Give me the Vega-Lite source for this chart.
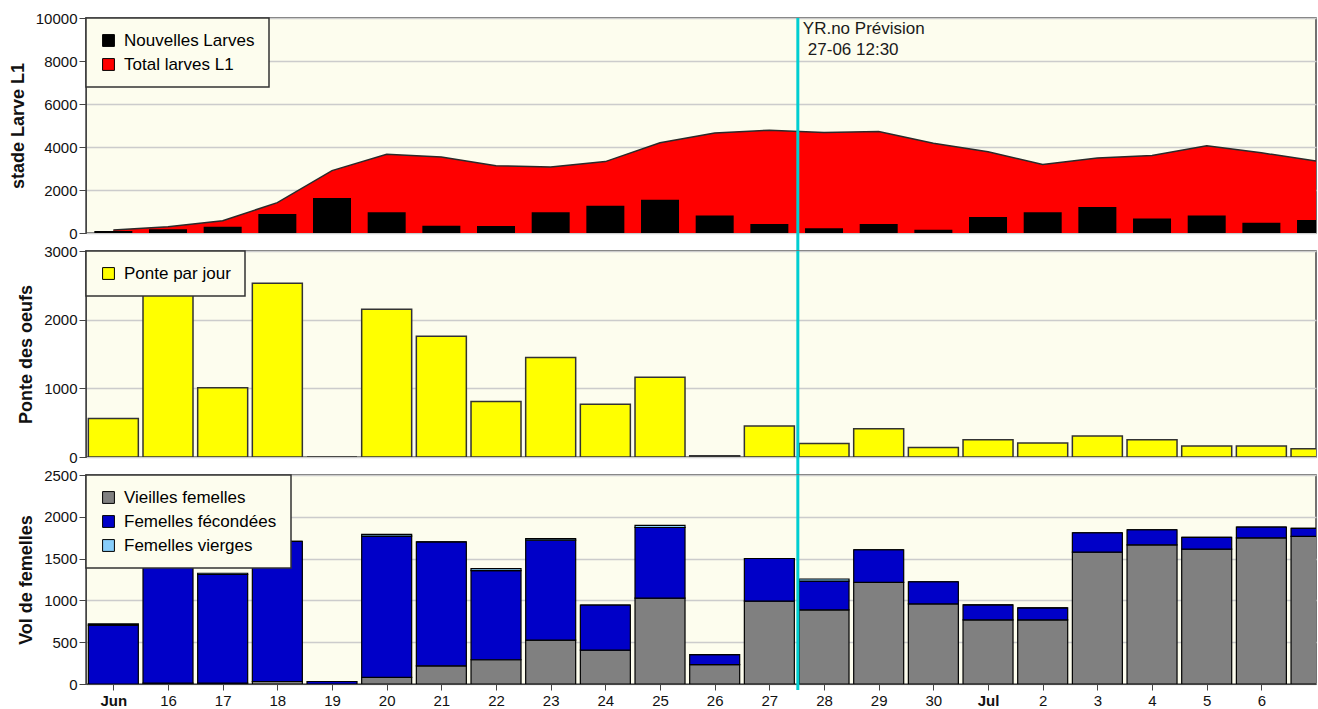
{
  "$schema": "https://vega.github.io/schema/vega-lite/v6.json",
  "padding": {"left": 8, "top": 10, "right": 0, "bottom": 0},
  "background": "#FFFFFF",
  "bounds": "flush",
  "spacing": 18,
  "datasets": {
    "larves": [
      {"date": "2023-06-15", "Nouvelles Larves": 90, "Total larves L1": 140},
      {"date": "2023-06-16", "Nouvelles Larves": 170, "Total larves L1": 290},
      {"date": "2023-06-17", "Nouvelles Larves": 290, "Total larves L1": 570},
      {"date": "2023-06-18", "Nouvelles Larves": 880, "Total larves L1": 1410},
      {"date": "2023-06-19", "Nouvelles Larves": 1630, "Total larves L1": 2900},
      {"date": "2023-06-20", "Nouvelles Larves": 960, "Total larves L1": 3660},
      {"date": "2023-06-21", "Nouvelles Larves": 340, "Total larves L1": 3530},
      {"date": "2023-06-22", "Nouvelles Larves": 330, "Total larves L1": 3130},
      {"date": "2023-06-23", "Nouvelles Larves": 960, "Total larves L1": 3070},
      {"date": "2023-06-24", "Nouvelles Larves": 1270, "Total larves L1": 3320},
      {"date": "2023-06-25", "Nouvelles Larves": 1550, "Total larves L1": 4200},
      {"date": "2023-06-26", "Nouvelles Larves": 810, "Total larves L1": 4650},
      {"date": "2023-06-27", "Nouvelles Larves": 420, "Total larves L1": 4780},
      {"date": "2023-06-28", "Nouvelles Larves": 220, "Total larves L1": 4670},
      {"date": "2023-06-29", "Nouvelles Larves": 420, "Total larves L1": 4720},
      {"date": "2023-06-30", "Nouvelles Larves": 150, "Total larves L1": 4170},
      {"date": "2023-07-01", "Nouvelles Larves": 740, "Total larves L1": 3780},
      {"date": "2023-07-02", "Nouvelles Larves": 960, "Total larves L1": 3190},
      {"date": "2023-07-03", "Nouvelles Larves": 1210, "Total larves L1": 3490},
      {"date": "2023-07-04", "Nouvelles Larves": 680, "Total larves L1": 3600},
      {"date": "2023-07-05", "Nouvelles Larves": 810, "Total larves L1": 4060},
      {"date": "2023-07-06", "Nouvelles Larves": 480, "Total larves L1": 3730},
      {"date": "2023-07-07", "Nouvelles Larves": 600, "Total larves L1": 3350}
    ],
    "ponte": [
      {"date": "2023-06-15", "Ponte par jour": 560},
      {"date": "2023-06-16", "Ponte par jour": 2800},
      {"date": "2023-06-17", "Ponte par jour": 1010},
      {"date": "2023-06-18", "Ponte par jour": 2530},
      {"date": "2023-06-19", "Ponte par jour": 0},
      {"date": "2023-06-20", "Ponte par jour": 2150},
      {"date": "2023-06-21", "Ponte par jour": 1760},
      {"date": "2023-06-22", "Ponte par jour": 810},
      {"date": "2023-06-23", "Ponte par jour": 1450},
      {"date": "2023-06-24", "Ponte par jour": 770},
      {"date": "2023-06-25", "Ponte par jour": 1160},
      {"date": "2023-06-26", "Ponte par jour": 20},
      {"date": "2023-06-27", "Ponte par jour": 450},
      {"date": "2023-06-28", "Ponte par jour": 195},
      {"date": "2023-06-29", "Ponte par jour": 410},
      {"date": "2023-06-30", "Ponte par jour": 140},
      {"date": "2023-07-01", "Ponte par jour": 250},
      {"date": "2023-07-02", "Ponte par jour": 205},
      {"date": "2023-07-03", "Ponte par jour": 305},
      {"date": "2023-07-04", "Ponte par jour": 250},
      {"date": "2023-07-05", "Ponte par jour": 160},
      {"date": "2023-07-06", "Ponte par jour": 160},
      {"date": "2023-07-07", "Ponte par jour": 120}
    ],
    "vol": [
      {"date": "2023-06-15", "Vieilles femelles": 0, "Femelles fécondées": 705, "Femelles vierges": 15},
      {"date": "2023-06-16", "Vieilles femelles": 10, "Femelles fécondées": 1590, "Femelles vierges": 0},
      {"date": "2023-06-17", "Vieilles femelles": 10, "Femelles fécondées": 1300, "Femelles vierges": 15},
      {"date": "2023-06-18", "Vieilles femelles": 30, "Femelles fécondées": 1675, "Femelles vierges": 0},
      {"date": "2023-06-19", "Vieilles femelles": 0, "Femelles fécondées": 30, "Femelles vierges": 0},
      {"date": "2023-06-20", "Vieilles femelles": 80, "Femelles fécondées": 1690, "Femelles vierges": 20},
      {"date": "2023-06-21", "Vieilles femelles": 217, "Femelles fécondées": 1483, "Femelles vierges": 0},
      {"date": "2023-06-22", "Vieilles femelles": 290, "Femelles fécondées": 1065, "Femelles vierges": 25},
      {"date": "2023-06-23", "Vieilles femelles": 525, "Femelles fécondées": 1195, "Femelles vierges": 20},
      {"date": "2023-06-24", "Vieilles femelles": 405, "Femelles fécondées": 540, "Femelles vierges": 0},
      {"date": "2023-06-25", "Vieilles femelles": 1027, "Femelles fécondées": 845, "Femelles vierges": 25},
      {"date": "2023-06-26", "Vieilles femelles": 232, "Femelles fécondées": 120, "Femelles vierges": 0},
      {"date": "2023-06-27", "Vieilles femelles": 991, "Femelles fécondées": 510, "Femelles vierges": 0},
      {"date": "2023-06-28", "Vieilles femelles": 886, "Femelles fécondées": 345, "Femelles vierges": 25},
      {"date": "2023-06-29", "Vieilles femelles": 1216, "Femelles fécondées": 390, "Femelles vierges": 0},
      {"date": "2023-06-30", "Vieilles femelles": 958, "Femelles fécondées": 265, "Femelles vierges": 0},
      {"date": "2023-07-01", "Vieilles femelles": 766, "Femelles fécondées": 180, "Femelles vierges": 0},
      {"date": "2023-07-02", "Vieilles femelles": 766, "Femelles fécondées": 144, "Femelles vierges": 0},
      {"date": "2023-07-03", "Vieilles femelles": 1577, "Femelles fécondées": 232, "Femelles vierges": 0},
      {"date": "2023-07-04", "Vieilles femelles": 1665, "Femelles fécondées": 180, "Femelles vierges": 0},
      {"date": "2023-07-05", "Vieilles femelles": 1613, "Femelles fécondées": 140, "Femelles vierges": 0},
      {"date": "2023-07-06", "Vieilles femelles": 1749, "Femelles fécondées": 129, "Femelles vierges": 0},
      {"date": "2023-07-07", "Vieilles femelles": 1765, "Femelles fécondées": 96, "Femelles vierges": 0}
    ],
    "prevision": [
      {"date": "2023-06-27T12:30:00Z", "ligne1": "YR.no Prévision", "ligne2": "27-06 12:30"}
    ]
  },
  "vconcat": [
    {
      "width": 1230,
      "height": 215,
      "data": {"name": "larves"},
      "encoding": {
        "x": {"field": "date", "type": "temporal", "axis": null,
          "scale": {"type": "utc", "nice": false, "padding": 0, "domain": [{"year": 2023, "month": 6, "date": 14, "hours": 12, "utc": true}, {"year": 2023, "month": 7, "date": 6, "hours": 23, "minutes": 59, "utc": true}]}}
      },
      "layer": [
        {
          "transform": [{"fold": ["Nouvelles Larves", "Total larves L1"], "as": ["serie", "value"]}, {"filter": "datum.serie == 'Total larves L1'"}],
          "mark": {"type": "area", "clip": true},
          "encoding": {
            "y": {"field": "value", "type": "quantitative", "scale": {"domain": [0, 10000], "nice": false},
              "axis": {"title": "stade Larve L1", "format": "d", "values": [0, 2000, 4000, 6000, 8000, 10000]}},
            "color": {"field": "serie", "type": "nominal", "scale": {"domain": ["Nouvelles Larves", "Total larves L1"], "range": ["#000000", "#FF0000"]}, "legend": {"title": null}}
          }
        },
        {
          "transform": [{"fold": ["Nouvelles Larves", "Total larves L1"], "as": ["serie", "value"]}, {"filter": "datum.serie == 'Total larves L1'"}],
          "mark": {"type": "line", "color": "#2a2a2a", "strokeWidth": 1.5, "clip": true},
          "encoding": {"y": {"field": "value", "type": "quantitative"}}
        },
        {
          "transform": [{"fold": ["Nouvelles Larves", "Total larves L1"], "as": ["serie", "value"]}, {"filter": "datum.serie == 'Nouvelles Larves'"}],
          "mark": {"type": "bar", "width": 38, "clip": true},
          "encoding": {
            "y": {"field": "value", "type": "quantitative"},
            "color": {"field": "serie", "type": "nominal"}
          }
        },
        {
          "data": {"name": "prevision"},
          "mark": {"type": "rule", "color": "#00CED1", "strokeWidth": 3},
          "encoding": {"y": {"datum": 10000, "type": "quantitative"}, "y2": {"datum": -840}}
        },
        {
          "data": {"name": "prevision"},
          "mark": {"type": "text", "align": "left", "baseline": "top", "dx": 5, "dy": 3, "fontSize": 17, "font": "Liberation Sans", "color": "#1a1a1a"},
          "encoding": {"y": {"datum": 10000, "type": "quantitative"}, "text": {"field": "ligne1"}}
        },
        {
          "data": {"name": "prevision"},
          "mark": {"type": "text", "align": "left", "baseline": "top", "dx": 10, "dy": 24, "fontSize": 17, "font": "Liberation Sans", "color": "#1a1a1a"},
          "encoding": {"y": {"datum": 10000, "type": "quantitative"}, "text": {"field": "ligne2"}}
        }
      ]
    },
    {
      "width": 1230,
      "height": 206,
      "data": {"name": "ponte"},
      "encoding": {
        "x": {"field": "date", "type": "temporal", "axis": null,
          "scale": {"type": "utc", "nice": false, "padding": 0, "domain": [{"year": 2023, "month": 6, "date": 14, "hours": 12, "utc": true}, {"year": 2023, "month": 7, "date": 6, "hours": 23, "minutes": 59, "utc": true}]}}
      },
      "layer": [
        {
          "transform": [{"fold": ["Ponte par jour"], "as": ["serie", "value"]}],
          "mark": {"type": "bar", "width": 50, "clip": true, "stroke": "#333333", "strokeWidth": 1.5},
          "encoding": {
            "y": {"field": "value", "type": "quantitative", "scale": {"domain": [0, 3000], "nice": false},
              "axis": {"title": "Ponte des oeufs", "format": "d", "values": [0, 500, 1000, 1500, 2000, 2500, 3000]}},
            "color": {"field": "serie", "type": "nominal", "scale": {"domain": ["Ponte par jour"], "range": ["#FFFF00"]}, "legend": {"title": null}}
          }
        },
        {
          "data": {"name": "prevision"},
          "mark": {"type": "rule", "color": "#00CED1", "strokeWidth": 3},
          "encoding": {"y": {"datum": 3000, "type": "quantitative"}, "y2": {"datum": -265}}
        }
      ]
    },
    {
      "width": 1230,
      "height": 209,
      "data": {"name": "vol"},
      "encoding": {
        "x": {"field": "date", "type": "temporal",
          "scale": {"type": "utc", "nice": false, "padding": 0, "domain": [{"year": 2023, "month": 6, "date": 14, "hours": 12, "utc": true}, {"year": 2023, "month": 7, "date": 6, "hours": 23, "minutes": 59, "utc": true}]},
          "axis": {"title": null, "tickCount": {"interval": "day", "step": 1}, "grid": false, "tickSize": 6, "labelPadding": 3, "labelFlush": false, "labelOverlap": false,
            "labelExpr": "(datum.index == 0 || utcdate(datum.value) == 1) ? utcFormat(datum.value, '%b') : utcFormat(datum.value, '%-d')",
            "labelFontWeight": {"condition": {"test": "datum.index == 0 || utcdate(datum.value) == 1", "value": "bold"}, "value": "normal"}}}
      },
      "layer": [
        {
          "transform": [
            {"fold": ["Vieilles femelles", "Femelles fécondées", "Femelles vierges"], "as": ["serie", "value"]},
            {"window": [{"op": "row_number", "as": "rang"}], "groupby": ["date"]}
          ],
          "mark": {"type": "bar", "width": 50, "clip": true, "stroke": "#000000", "strokeWidth": 1.2},
          "encoding": {
            "y": {"field": "value", "type": "quantitative", "stack": "zero", "scale": {"domain": [0, 2500], "nice": false},
              "axis": {"title": "Vol de femelles", "format": "d", "values": [0, 500, 1000, 1500, 2000, 2500]}},
            "color": {"field": "serie", "type": "nominal",
              "scale": {"domain": ["Vieilles femelles", "Femelles fécondées", "Femelles vierges"], "range": ["#808080", "#0000C8", "#87CEFA"]}, "legend": {"title": null}},
            "order": {"field": "rang", "type": "quantitative", "sort": "ascending"}
          }
        },
        {
          "data": {"name": "prevision"},
          "mark": {"type": "rule", "color": "#00CED1", "strokeWidth": 3},
          "encoding": {"y": {"datum": 2500, "type": "quantitative"}, "y2": {"datum": -72}}
        }
      ]
    }
  ],
  "resolve": {"scale": {"color": "independent", "y": "independent"}, "legend": {"color": "independent"}},
  "config": {
    "font": "Liberation Sans",
    "view": {"fill": "#FDFDEE", "stroke": "#444444", "strokeWidth": 1.5},
    "axis": {
      "labelFont": "Liberation Sans", "labelFontSize": 15, "labelColor": "#111111",
      "titleFont": "Liberation Sans", "titleFontSize": 18, "titleFontWeight": "bold", "titleColor": "#111111",
      "domainColor": "#444444", "tickColor": "#444444", "tickSize": 7, "labelPadding": 2, "titlePadding": 8,
      "gridColor": "#CCCCCC", "gridWidth": 1.5, "labelFlush": false
    },
    "axisX": {"grid": false},
    "axisY": {"grid": true},
    "legend": {
      "orient": "top-left", "offset": 0, "fillColor": "#FDFDEE", "strokeColor": "#333333", "strokeWidth": 1.5,
      "padding": 14, "rowPadding": 6, "labelOffset": 7, "labelFont": "Liberation Sans", "labelFontSize": 17,
      "labelColor": "#000000", "labelLimit": 400, "symbolType": "square", "symbolSize": 140,
      "symbolStrokeColor": "#000000", "symbolStrokeWidth": 1, "cornerRadius": 0
    }
  }
}
